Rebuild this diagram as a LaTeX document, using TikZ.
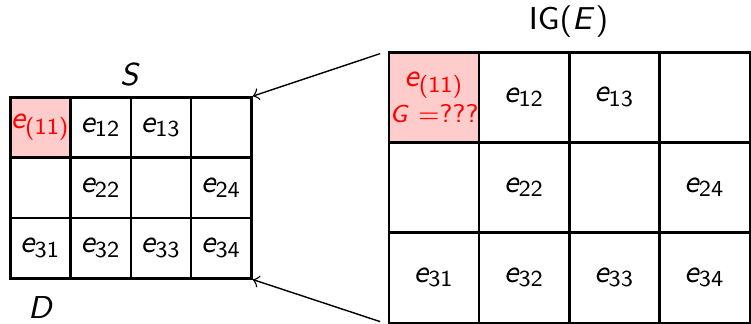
\documentclass[tikz,border=0pt]{standalone}
\renewcommand{\familydefault}{\sfdefault}
\DeclareMathAlphabet{\mathsfit}{OT1}{cmss}{m}{sl}
\DeclareMathSizes{9}{9}{6.5}{5}
\DeclareMathSizes{7.3}{7.3}{5}{5}
\newcommand{\entry}[1]{$\mathsfit{e}_{\mbox{\fontsize{6.5}{7}\selectfont #1}}$}
\begin{document}
\begin{tikzpicture}
				\tikzset{
					small cell/.style={draw,line width=0.7pt,minimum size=6.03mm,inner sep=0pt,font=\small},
					big cell/.style={draw,line width=0.7pt,minimum size=9.02mm,inner sep=0pt,font=\small},
					hot/.style={fill=red!20,text=red,align=center},
					map arrow/.style={->,line width=0.4pt,shorten <=0.8mm}
				}
				\useasboundingbox (0,0) rectangle (7.51,3.23);
				% cells of S
				\foreach \r/\c/\txt in {
					1/2/{\entry{12}},1/3/{\entry{13}},1/4/{},
					2/1/{},2/2/{\entry{22}},2/3/{},2/4/{\entry{24}},
					3/1/{\entry{31}},3/2/{\entry{32}},3/3/{\entry{33}},3/4/{\entry{34}}
				}{
					\node[small cell] (s\r\c) at ({0.103+(\c-0.5)*0.603},{2.256-(\r-0.5)*0.603}) {\txt};
				}
				\node[small cell,hot] (s11) at ({0.103+0.5*0.603},{2.256-0.5*0.603}) {\entry{(11)}};
				% cells of IG(E)
				\foreach \r/\c/\txt in {
					1/2/{\entry{12}},1/3/{\entry{13}},1/4/{},
					2/1/{},2/2/{\entry{22}},2/3/{},2/4/{\entry{24}},
					3/1/{\entry{31}},3/2/{\entry{32}},3/3/{\entry{33}},3/4/{\entry{34}}
				}{
					\node[big cell] (g\r\c) at ({3.89+(\c-0.5)*0.902},{2.707-(\r-0.5)*0.902}) {\txt};
				}
				\node[big cell,hot] (g11) at ({3.89+0.5*0.902},{2.707-0.5*0.902})
					{\entry{(11)}\\[-0.6pt]{\fontsize{7.3}{10.4}\selectfont$\mathsfit{G} =$???}};
				% labels
				\node[font=\small] (lS) at (1.305,2.48) {$\mathsfit{S}$};
				\node[font=\small] (lD) at (0.41,0.15) {$\mathsfit{D}$};
				\node[font=\small] (lIG) at (5.685,3.01) {IG($\mathsfit{E}$)};
				% arrows
				\draw[map arrow] (g11.north west) -- (s14.north east);
				\draw[map arrow] (g31.south west) -- (s34.south east);
			\end{tikzpicture}
\end{document}
